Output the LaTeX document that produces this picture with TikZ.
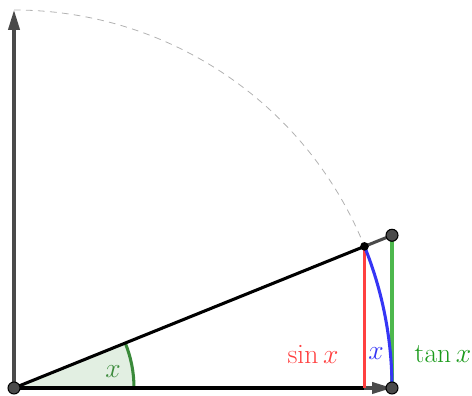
\documentclass[tikz,border=0pt]{standalone}
\usetikzlibrary{arrows.meta,calc}
\definecolor{axisgray}{HTML}{4A4A4A}
\definecolor{myred}{HTML}{FF4040}
\definecolor{myblue}{HTML}{3535F5}
\definecolor{mygreen}{HTML}{4DB84D}
\definecolor{anglegreen}{HTML}{3A8A3A}
\definecolor{labgreen}{HTML}{1A9A1A}
\definecolor{sectorfill}{HTML}{E2EFE2}
\begin{document}
\begin{tikzpicture}[x=0.75pt,y=0.75pt,
  axis/.style={draw=axisgray,line width=2.3pt,-{Triangle[length=15pt,width=8.5pt]}},
  thick line/.style={line width=2.3pt},
  bigdot/.style={circle,draw=black,fill=axisgray,line width=0.8pt,inner sep=0pt,minimum size=9pt},
  smalldot/.style={circle,fill=black,inner sep=0pt,minimum size=6.5pt},
  lab/.style={font=\fontsize{21}{24}\selectfont}]
\useasboundingbox (0,0) rectangle (472,396);
\def\R{378}
\def\ang{22}
\coordinate (O) at (14,8);
\coordinate (A) at ($(O)+(\ang:\R)$);
\coordinate (B) at ($(O)+(\R,0)$);
\coordinate (S) at (A |- O);
\coordinate (T) at ($(O)+(\R,{\R*tan(\ang)})$);
\coordinate (Y) at ($(O)+(0,\R)$);
% sector
\fill[sectorfill] (O) -- ++(120,0) arc[start angle=0,end angle=\ang,radius=120] -- cycle;
% dashed circle arc
\draw[gray!60,line width=0.6pt,dash pattern=on 5pt off 4pt] (Y) arc[start angle=90,end angle=\ang,radius=\R];
% axes
\draw[axis] (O) -- (Y);
\draw[axis] (O) -- (B);
% angle arc
\draw[anglegreen,line width=2.3pt] ($(O)+(120,0)$) arc[start angle=0,end angle=\ang,radius=120];
% lines
\draw[axisgray,thick line] (A) -- (T);
\draw[black,thick line] (O) -- (A);
\draw[black,thick line] (O) -- (S);
\draw[myred,thick line] (A) -- (S);
\draw[mygreen,thick line] (T) -- (B);
\draw[myblue,thick line] (A) arc[start angle=\ang,end angle=0,radius=\R];
% dots
\node[bigdot] (o) at (O) {};
\node[bigdot] (b) at (B) {};
\node[bigdot] (t) at (T) {};
\node[smalldot] (a) at (A) {};
% labels
\node[lab,text=anglegreen] (lx) at (113,24) {$x$};
\node[lab,text=myred] (ls) at (313,42) {$\sin x$};
\node[lab,text=myblue] (lb) at (376,42) {$x$};
\node[lab,text=labgreen] (lt) at (443,42) {$\tan x$};
\end{tikzpicture}
\end{document}
